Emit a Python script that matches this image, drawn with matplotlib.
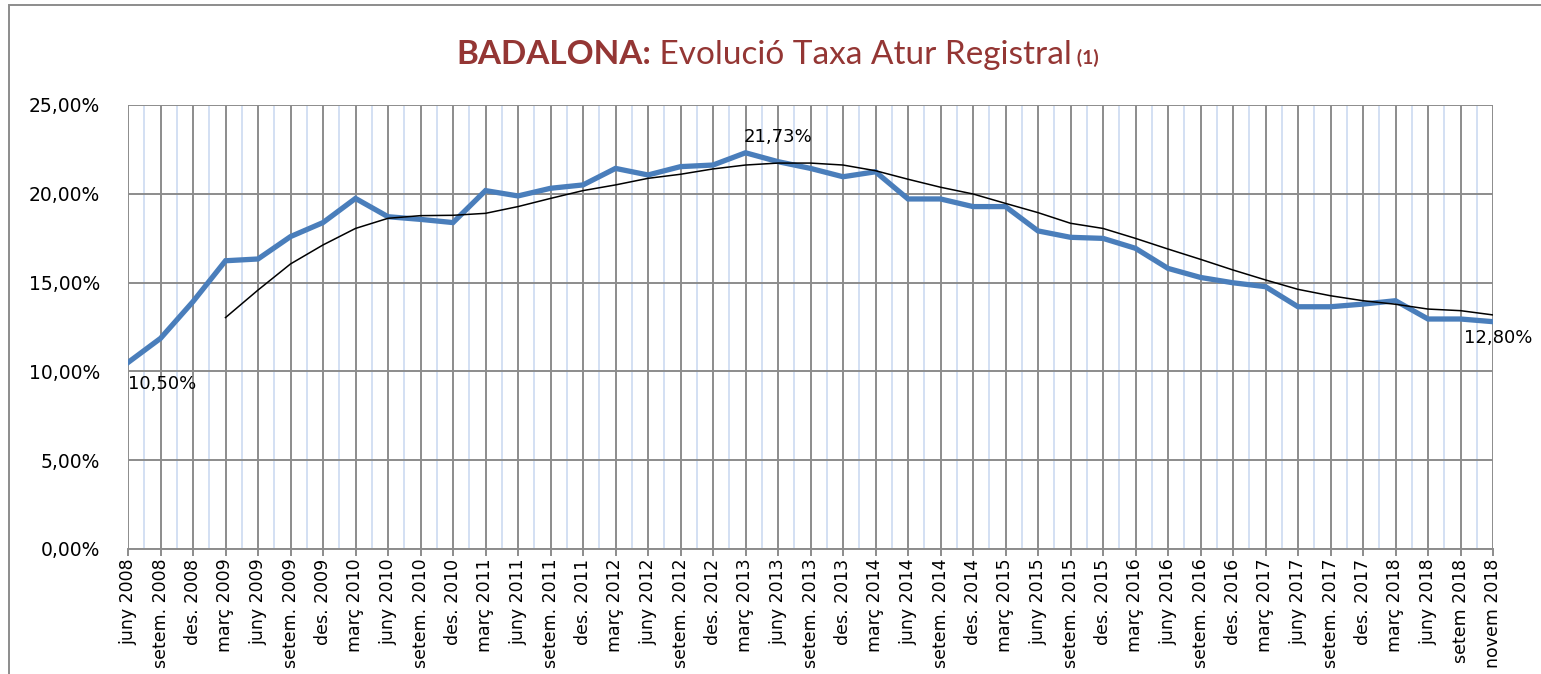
import matplotlib
matplotlib.use("Agg")
import matplotlib.pyplot as plt
import numpy as np
from matplotlib.ticker import FuncFormatter, FixedLocator
from matplotlib.patches import Rectangle

# Trimestres (etiquetes de l'eix X)
periodes = ["juny 2008", "setem. 2008", "des. 2008"]
for any_ in range(2009, 2018):
    periodes += [f"març {any_}", f"juny {any_}", f"setem. {any_}", f"des. {any_}"]
periodes += ["març 2018", "juny 2018", "setem 2018", "novem 2018"]

# Taxa d'atur registral (%)
taxa_atur = [10.50, 11.86, 13.93, 16.23, 16.33, 17.59, 18.38, 19.74, 18.71, 18.56,
             18.38, 20.18, 19.88, 20.31, 20.50, 21.43, 21.06, 21.53, 21.62, 22.31,
             21.81, 21.43, 20.96, 21.24, 19.71, 19.71, 19.28, 19.28, 17.91, 17.55,
             17.49, 16.93, 15.80, 15.29, 14.99, 14.77, 13.64, 13.64, 13.79, 13.98,
             12.95, 12.95, 12.80]

# Mitjana mòbil (comença al quart trimestre)
mitjana_mobil = [None, None, None, 13.03, 14.58, 16.05, 17.12, 18.05, 18.62, 18.77,
                 18.79, 18.90, 19.28, 19.74, 20.18, 20.50, 20.87, 21.10, 21.40, 21.62,
                 21.73, 21.73, 21.62, 21.30, 20.82, 20.37, 19.99, 19.46, 18.94, 18.34,
                 18.05, 17.49, 16.89, 16.31, 15.71, 15.15, 14.62, 14.26, 13.98, 13.78,
                 13.51, 13.42, 13.18]

etiquetes = {0: "10,50%", 42: "12,80%"}
etiqueta_max = (20, "21,73%")

color_titol = "#943634"
color_linia = "#4a7ebb"
color_grid = "#8c8c8c"


def main():
    fig = plt.figure(figsize=(15.41, 6.74), dpi=100)
    ax = fig.add_axes([128 / 1541, 1 - 549 / 674, (1493 - 128) / 1541, (549 - 105) / 674])

    x = np.arange(len(periodes))
    mm = np.array([np.nan if v is None else v for v in mitjana_mobil])

    ax.plot(x, taxa_atur, color=color_linia, lw=3.8, solid_joinstyle="miter", zorder=4)
    ax.plot(x, mm, color="black", lw=1.1, zorder=5)

    ax.set_xlim(0, len(periodes) - 1)
    ax.set_ylim(0, 25)

    # graella
    ax.set_xticks(x)
    ax.xaxis.set_minor_locator(FixedLocator(x[:-1] + 0.5))
    ax.set_yticks(np.arange(0, 26, 5))
    ax.grid(True, which="major", color=color_grid, lw=1.4, zorder=1)
    ax.grid(True, which="minor", axis="x", color="#d3e0f3", lw=1.4, zorder=0)
    ax.set_axisbelow(True)

    for s in ["top", "right", "left"]:
        ax.spines[s].set_visible(False)
    ax.spines["bottom"].set_color(color_grid)
    ax.spines["bottom"].set_linewidth(1.4)

    ax.yaxis.set_major_formatter(FuncFormatter(lambda v, p: f"{v:.2f}%".replace(".", ",")))
    ax.tick_params(axis="y", length=0, pad=20, labelsize=13.5, labelcolor="black")
    ax.tick_params(axis="x", which="major", length=5, color=color_grid, width=1.4,
                   direction="out", pad=2)
    ax.tick_params(axis="x", which="minor", length=0)
    ax.set_xticklabels(periodes, rotation=90, fontsize=12.5, va="top", ha="center")

    # etiquetes de dades
    ax.annotate(etiquetes[0], (0, taxa_atur[0]), xytext=(0, -9), textcoords="offset points",
                ha="left", va="top", fontsize=13, zorder=6)
    ax.annotate(etiquetes[42], (42, taxa_atur[42]), xytext=(-21, -5), textcoords="offset points",
                ha="left", va="top", fontsize=13, zorder=6)
    ax.annotate(etiqueta_max[1], (etiqueta_max[0], mm[etiqueta_max[0]]), xytext=(0, 12),
                textcoords="offset points", ha="center", va="bottom", fontsize=13, zorder=6)

    # títol en tres trossos
    fig.canvas.draw()
    r = fig.canvas.get_renderer()
    parts = [("BADALONA:", "bold", 24), (" Evolució Taxa Atur Registral", "normal", 24),
             (" (1)", "bold", 14)]
    textos = []
    for txt, w, fs in parts:
        t = fig.text(0, 1 - 64 / 674, txt, color=color_titol, fontweight=w, fontsize=fs,
                     family="Lato", va="baseline", ha="left")
        textos.append(t)
    amples = [t.get_window_extent(r).width for t in textos]
    x0 = (457 + 1098) / 2 - sum(amples) / 2
    for t, a in zip(textos, amples):
        t.set_x(x0 / 1541)
        x0 += a

    # marc exterior
    fig.patches.append(Rectangle((9 / 1541, -0.1), 2, 1.1 - 5 / 674, transform=fig.transFigure,
                                 fill=False, edgecolor="#8c8c8c", lw=1.4))

    fig.savefig("out.png", dpi=100)


if __name__ == "__main__":
    main()
